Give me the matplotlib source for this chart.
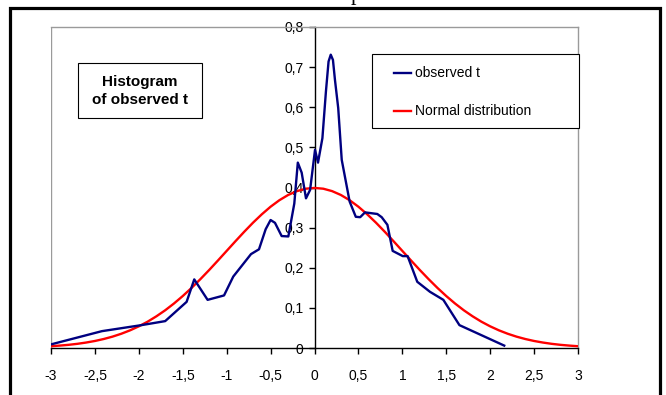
import matplotlib
matplotlib.use("Agg")
import matplotlib.pyplot as plt
from matplotlib.patches import Rectangle
from matplotlib.lines import Line2D

plt.rcParams['font.family'] = ['Liberation Sans', 'DejaVu Sans']

# observed t
obs_x = [-3.0, -2.42, -1.97, -1.70, -1.456, -1.369, -1.217, -1.03, -0.925, -0.723,
         -0.632, -0.556, -0.50, -0.45, -0.374, -0.298, -0.23, -0.19, -0.146, -0.097,
         -0.05, 0.006, 0.04, 0.09, 0.13, 0.16, 0.185, 0.21, 0.233, 0.27,
         0.31, 0.40, 0.47, 0.52, 0.575, 0.715, 0.765, 0.83, 0.89, 1.005,
         1.06, 1.17, 1.315, 1.467, 1.65, 2.16]
obs_y = [0.009, 0.042, 0.057, 0.067, 0.115, 0.171, 0.120, 0.131, 0.178, 0.234,
         0.246, 0.296, 0.319, 0.312, 0.279, 0.278, 0.360, 0.462, 0.437, 0.373,
         0.394, 0.494, 0.462, 0.523, 0.639, 0.714, 0.731, 0.718, 0.668, 0.598,
         0.469, 0.365, 0.327, 0.326, 0.338, 0.334, 0.326, 0.307, 0.242, 0.229,
         0.229, 0.165, 0.140, 0.120, 0.057, 0.006]

# Normal distribution curve
norm_x = [-3.0, -2.9, -2.8, -2.7, -2.6, -2.5, -2.4, -2.3, -2.2, -2.1, -2.0,
          -1.9, -1.8, -1.7, -1.6, -1.5, -1.4, -1.3, -1.2, -1.1, -1.0,
          -0.9, -0.8, -0.7, -0.6, -0.5, -0.4, -0.3, -0.2, -0.1, 0.0,
          0.1, 0.2, 0.3, 0.4, 0.5, 0.6, 0.7, 0.8, 0.9, 1.0,
          1.1, 1.2, 1.3, 1.4, 1.5, 1.6, 1.7, 1.8, 1.9, 2.0,
          2.1, 2.2, 2.3, 2.4, 2.5, 2.6, 2.7, 2.8, 2.9, 3.0]
norm_y = [0.0044, 0.0060, 0.0079, 0.0104, 0.0136, 0.0175, 0.0224, 0.0283, 0.0355, 0.0440, 0.0540,
          0.0656, 0.0790, 0.0940, 0.1109, 0.1295, 0.1497, 0.1714, 0.1942, 0.2179, 0.2420,
          0.2661, 0.2897, 0.3123, 0.3332, 0.3521, 0.3683, 0.3814, 0.3910, 0.3970, 0.3989,
          0.3970, 0.3910, 0.3814, 0.3683, 0.3521, 0.3332, 0.3123, 0.2897, 0.2661, 0.2420,
          0.2179, 0.1942, 0.1714, 0.1497, 0.1295, 0.1109, 0.0940, 0.0790, 0.0656, 0.0540,
          0.0440, 0.0355, 0.0283, 0.0224, 0.0175, 0.0136, 0.0104, 0.0079, 0.0060, 0.0044]

x_ticks = [-3, -2.5, -2, -1.5, -1, -0.5, 0, 0.5, 1, 1.5, 2, 2.5, 3]
y_ticks = [0, 0.1, 0.2, 0.3, 0.4, 0.5, 0.6, 0.7, 0.8]

W, H = 666, 395
def fx(px):
    return px / W
def fy(py):
    return 1 - py / H

fig = plt.figure(figsize=(W / 100, H / 100), dpi=100)
fig.patch.set_facecolor('white')

L, R, T, B = 51, 578, 27, 348
ax = fig.add_axes([fx(L), fy(B), fx(R) - fx(L), fy(T) - fy(B)])
ax.set_xlim(-3, 3)
ax.set_ylim(0, 0.8)

ax.plot(norm_x, norm_y, color='#FF0000', lw=1.7, zorder=3, solid_joinstyle='round')
ax.plot(obs_x, obs_y, color='#000080', lw=1.7, zorder=4, solid_joinstyle='round')

gray = '#9a9a9a'
for s in ['top', 'right']:
    ax.spines[s].set_color(gray)
    ax.spines[s].set_linewidth(1.0)
ax.spines['bottom'].set_color('black')
ax.spines['bottom'].set_linewidth(1.0)
ax.spines['left'].set_position(('data', 0))
ax.spines['left'].set_color('black')
ax.spines['left'].set_linewidth(1.0)
ax.axvline(-3, color=gray, lw=1.0, zorder=1)

ax.set_xticks(x_ticks)
ax.set_xticklabels([('%g' % v).replace('.', ',') for v in x_ticks])
ax.set_yticks(y_ticks)
ax.set_yticklabels([('%g' % v).replace('.', ',') for v in y_ticks])
ax.tick_params(axis='x', direction='out', length=4.5, width=1.0, pad=10.5, labelsize=10)
ax.tick_params(axis='y', direction='out', length=4.5, width=1.0, pad=3.5, labelsize=10)

# legend box
fig.add_artist(Rectangle((fx(372), fy(128)), fx(579) - fx(372), fy(54) - fy(128),
                         transform=fig.transFigure, facecolor='white', edgecolor='black',
                         lw=0.8, zorder=10))
for yy, col, lab in [(73, '#000080', 'observed t'), (111, '#FF0000', 'Normal distribution')]:
    fig.add_artist(Line2D([fx(394), fx(411)], [fy(yy), fy(yy)], transform=fig.transFigure,
                          color=col, lw=1.7, zorder=11))
    fig.text(fx(415), fy(yy), lab, ha='left', va='center', fontsize=10, zorder=11)

# text box
fig.add_artist(Rectangle((fx(78), fy(118)), fx(202) - fx(78), fy(63) - fy(118),
                         transform=fig.transFigure, facecolor='white', edgecolor='black',
                         lw=0.8, zorder=10))
fig.text(fx(140), fy(91), 'Histogram\nof observed t', ha='center', va='center',
         fontsize=11, fontweight='bold', linespacing=1.45, zorder=11)

# outer chart frame
fig.add_artist(Rectangle((fx(10), fy(420)), fx(660) - fx(10), fy(8) - fy(420),
                         transform=fig.transFigure, facecolor='none', edgecolor='black',
                         lw=2.3, zorder=12))

# clipped title fragment at top (only its descender is visible in the reference)
fig.text(fx(356), 1.0, 'p', ha='center', va='baseline', fontsize=16,
         family='Liberation Serif')

fig.savefig('out.png', dpi=100)
